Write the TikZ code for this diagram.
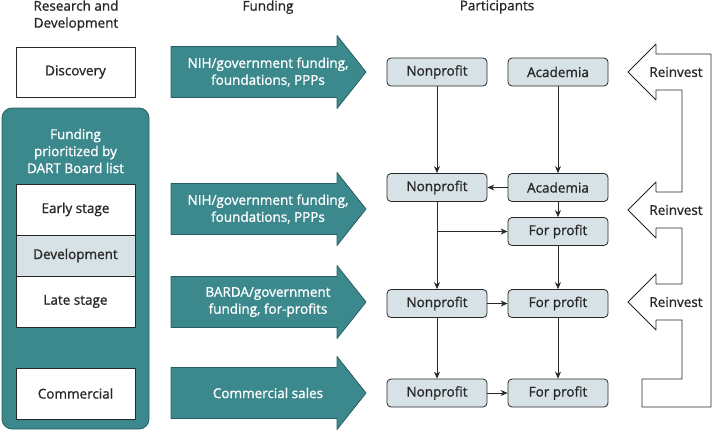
\documentclass[tikz,border=0pt]{standalone}
\usepackage{fontspec}
\setmainfont{Open Sans}[FakeBold=1.1]
\usetikzlibrary{arrows.meta}
\definecolor{tealbox}{RGB}{60,137,141}
\definecolor{tealedge}{RGB}{40,95,98}
\definecolor{lightbox}{RGB}{214,226,229}
\definecolor{darkline}{RGB}{40,40,40}
\begin{document}
\begin{tikzpicture}[x = 1pt, y = -1pt, line join = round, >={Stealth[length=7pt,width=6pt]},
	font = \fontsize{13.5}{17}\selectfont, line width = 0.8pt,
	stage/.style = {draw = darkline, fill = white, minimum width = 119pt, inner sep = 0pt, text = darkline},
	part/.style = {draw = darkline, fill = lightbox, rounded corners = 4pt, minimum width = 100pt, minimum height = 28pt, inner sep = 0pt, text = darkline},
	ftext/.style = {align = center, text = white, inner sep = 0pt},
	link/.style = {->, darkline}]
	\useasboundingbox (0,0) rectangle (712,431);
	%Vẽ tiêu đề các cột
	\node[align = center, anchor = north, inner sep = 0pt, text = darkline] (hrd) at (76,0) {Research and\\Development};
	\node[anchor = north, inner sep = 0pt, text = darkline] (hfund) at (268,0) {Funding};
	\node[anchor = north, inner sep = 0pt, text = darkline] (hpart) at (497,0) {Participants};
	%Vẽ cột nghiên cứu và phát triển
	\node[draw = tealedge, fill = tealbox, rounded corners = 10pt, minimum width = 147pt, minimum height = 321pt] (panel) at (75.5,268.5) {};
	\node[align = center, text = white, inner sep = 0pt] (dart) at (75.5,151) {Funding\\prioritized by\\DART Board list};
	\node[stage, minimum height = 50pt] (disc) at (75.5,72) {Discovery};
	\node[stage, minimum height = 51pt] (early) at (75.5,209.5) {Early stage};
	\node[stage, minimum height = 41pt, fill = lightbox] (dev) at (75.5,255.5) {Development};
	\node[stage, minimum height = 51pt] (late) at (75.5,301.5) {Late stage};
	\node[stage, minimum height = 51pt] (comm) at (75.5,393.5) {Commercial};
	%Vẽ các mũi tên tài trợ
	\foreach \y in {72,209,302,393}
		\filldraw[fill = tealbox, draw = tealedge] (171,\y-25.5) -- (337,\y-25.5) -- (337,\y-36.5) -- (366,\y) -- (337,\y+36.5) -- (337,\y+25.5) -- (171,\y+25.5) -- cycle;
	\node[ftext] (fund1) at (268,72) {NIH/government funding,\\foundations, PPPs};
	\node[ftext] (fund2) at (268,209) {NIH/government funding,\\foundations, PPPs};
	\node[ftext] (fund3) at (268,302) {BARDA/government\\funding, for-profits};
	\node[ftext] (fund4) at (268,393) {Commercial sales};
	%Vẽ các bên tham gia
	\node[part] (np1) at (437,72) {Nonprofit};
	\node[part] (ac1) at (558,72) {Academia};
	\node[part] (np2) at (437,187.5) {Nonprofit};
	\node[part] (ac2) at (558,187.5) {Academia};
	\node[part] (fp2) at (558,231.5) {For profit};
	\node[part] (np3) at (437,303.5) {Nonprofit};
	\node[part] (fp3) at (558,303.5) {For profit};
	\node[part] (np4) at (437,393) {Nonprofit};
	\node[part] (fp4) at (558,393) {For profit};
	\draw[link] (np1) -- (np2);
	\draw[link] (ac1) -- (ac2);
	\draw[link] (ac2) -- (np2);
	\draw[link] (ac2) -- (fp2);
	\draw[link] (np2) -- (np3);
	\draw[link] (np2 |- fp2) -- (fp2);
	\draw[link] (fp2) -- (fp3);
	\draw[link] (np3) -- (fp3);
	\draw[link] (np3) -- (np4);
	\draw[link] (fp3) -- (fp4);
	\draw[link] (np4) -- (fp4);
	%Vẽ mũi tên tái đầu tư
	\draw[darkline, fill = white] (656,54) -- (711,54) -- (711,407) -- (642,407) -- (642,379) -- (682,379) -- (682,320) -- (656,320) -- (656,330) -- (628,302) -- (656,274) -- (656,284) -- (682,284) -- (682,228) -- (656,228) -- (656,238) -- (628,210) -- (656,182) -- (656,192) -- (682,192) -- (682,90) -- (656,90) -- (656,100) -- (628,72) -- (656,44) -- cycle;
	\foreach \y [count = \i] in {72,210,302}
		\node[text = darkline] (re\i) at (676,\y) {Reinvest};
\end{tikzpicture}
\end{document}
